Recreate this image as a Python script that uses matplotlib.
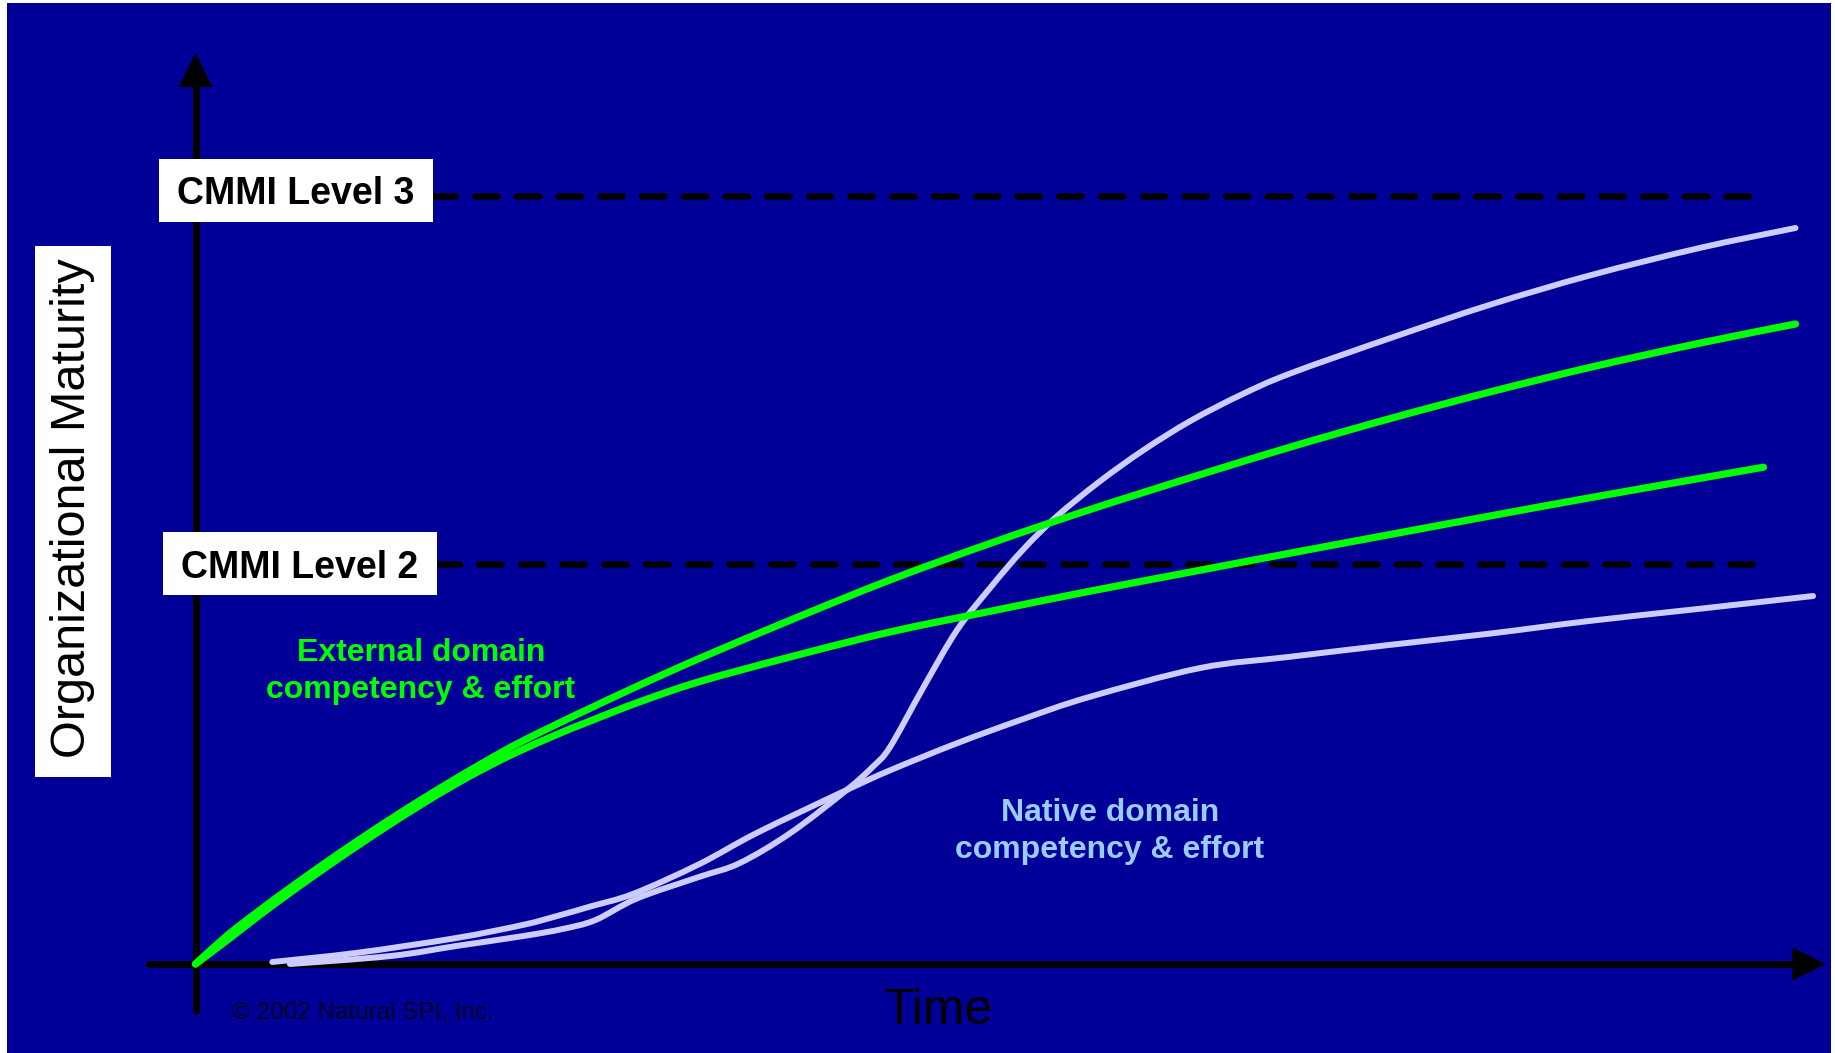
import matplotlib
matplotlib.use("Agg")
import numpy as np
import matplotlib.pyplot as plt
from matplotlib.patches import Rectangle, PathPatch
from matplotlib.path import Path
from matplotlib.transforms import Affine2D

W, H = 1835, 1053
DPI = 100

BLUE = "#000099"
GREEN = "#00ff00"
LAVENDER = "#ccccff"
NATIVE_TEXT = "#99ccff"
FONT = "Liberation Sans"

# maturity thresholds (y units)
level_names = ["CMMI Level 2", "CMMI Level 3"]
level_values = [50.0, 96.0]

# external domain competency & effort: two trajectories (time, maturity)
ext_fast_t = [0, 2, 4, 6, 8, 10, 12, 14, 16, 18, 20, 22.6, 24.7,
              27.8, 31.5, 37.2, 43.4, 49.7, 55.9, 62.2, 68.4, 74.7, 80.9, 87.2, 94.0, 100.0]
ext_fast_m = [0, 3.6, 6.7, 9.64, 12.48, 15.22, 17.86, 20.4, 22.84, 25.18, 27.42, 30.0, 32.0,
              34.9, 38.2, 43.0, 48.0, 52.6, 56.8, 60.8, 64.6, 68.2, 71.5, 74.6, 77.6, 80.0]
ext_slow_t = [0, 2, 4, 6, 8, 10, 12, 14, 16, 18, 20, 22.6, 24.7,
              27.8, 31.5, 37.2, 43.4, 49.7, 55.9, 62.2, 68.4, 74.7, 80.9, 87.2, 94.0, 98.0]
ext_slow_m = [0, 3.0, 6.1, 9.04, 11.88, 14.62, 17.26, 19.8, 22.2, 24.4, 26.4, 28.7, 30.4,
              32.8, 35.3, 38.4, 41.5, 44.1, 46.6, 49.0, 51.35, 53.7, 56.0, 58.3, 60.7, 62.1]

# native domain competency & effort: two trajectories (time, maturity)
nat_slow_t = [4.8, 10.1, 16.3, 20.5, 22.6, 24.7, 27.4, 31.5, 35.1, 40.7, 43.4, 47.6,
              51.7, 55.9, 62.8, 68.4, 74.7, 80.9, 87.2, 94.0, 101.1]
nat_slow_m = [0.25, 1.4, 3.25, 4.9, 6.0, 7.2, 8.8, 12.5, 16.4, 21.75, 24.2, 27.6,
              30.6, 33.4, 37.0, 38.4, 39.9, 41.3, 42.9, 44.4, 46.0]
nat_fast_t = [5.9, 12.2, 16.3, 20.5, 23.0, 25.0, 27.6, 31.5, 34.0, 37.2, 40.7, 42.3, 43.4,
              45.5, 47.6, 49.7, 51.7, 53.8, 56.5, 59.3, 62.2, 65.3, 68.4, 74.7, 80.9, 87.2,
              94.0, 100.0]
nat_fast_m = [0, 1.0, 2.25, 3.5, 4.4, 5.5, 8.2, 10.9, 12.6, 16.4, 21.75, 24.6, 27.1,
              34.6, 41.75, 47.1, 51.75, 55.9, 60.3, 64.3, 67.9, 71.1, 73.8, 78.25, 82.4, 86.1,
              89.5, 92.0]


def smooth_path(xs, ys):
    """Catmull-Rom style cubic Bezier path through the given points."""
    p = np.column_stack([xs, ys]).astype(float)
    ext = np.vstack([p[0], p, p[-1]])
    verts = [p[0]]
    codes = [Path.MOVETO]
    for i in range(1, len(ext) - 2):
        a, b, c, d = ext[i - 1], ext[i], ext[i + 1], ext[i + 2]
        verts += [b + (c - a) / 6, c - (d - b) / 6, c]
        codes += [Path.CURVE4] * 3
    return Path(verts, codes)


def draw_curve(ax, xs, ys, color, lw):
    ax.add_patch(PathPatch(smooth_path(xs, ys), facecolor="none", edgecolor=color,
                           lw=lw, capstyle="round", joinstyle="round", zorder=3))


fig = plt.figure(figsize=(W / DPI, H / DPI), dpi=DPI, facecolor="white")
ax = fig.add_axes([0, 0, 1, 1])
ax.set_axis_off()
ax.patch.set_alpha(0)
# chart origin sits at pixel (195.5, 964); 16 px per time unit, 8 px per maturity unit
ax.set_xlim(-195.5 / 16, (W - 195.5) / 16)
ax.set_ylim((964 - H) / 8, 964 / 8)

# top-left pixel coordinates for the slide furniture
pix = Affine2D().scale(1, -1).translate(0, H)

ax.add_patch(Rectangle((7, 3), 1824, 1050, transform=pix, facecolor=BLUE,
                       edgecolor="none", zorder=0))

# axes with arrow heads
ax.plot([0, 0], [-5.9, 110.0], color="black", lw=5.0, solid_capstyle="round", zorder=2)
ax.fill([-1.06, 1.06, 0], [109.6, 109.6, 113.9], color="black", lw=0, zorder=2)
ax.plot([-2.9, 100.0], [0, 0], color="black", lw=5.0, solid_capstyle="round", zorder=2)
ax.fill([99.8, 99.8, 101.9], [-2.06, 2.06, 0], color="black", lw=0, zorder=2)

# CMMI level thresholds with their label boxes
box_left = [163, 159]
box_top = [532, 159]
for name, lv, bx, by in zip(level_names, level_values, box_left, box_top):
    ax.plot([(bx + 274 - 195.5) / 16, 98.1], [lv, lv], color="black", lw=4.7,
            dashes=(3.45, 2.94), dash_capstyle="round", zorder=2)
    ax.add_patch(Rectangle((bx, by), 274, 63, transform=pix, facecolor="white",
                           edgecolor="none", zorder=4))
    ax.text(bx + 137, by + 45.5, name, transform=pix, ha="center", va="baseline",
            fontsize=27, fontweight="bold", family=FONT, color="black", zorder=5)

# y label in a white box
ax.add_patch(Rectangle((35, 246), 76, 531, transform=pix, facecolor="white",
                       edgecolor="none", zorder=4))
ax.text(73, 508, "Organizational Maturity", transform=pix, rotation=90, ha="center",
        va="center", fontsize=35, family=FONT, color="black", zorder=5)

# trajectories
draw_curve(ax, nat_slow_t, nat_slow_m, LAVENDER, 4.3)
draw_curve(ax, nat_fast_t, nat_fast_m, LAVENDER, 4.3)
draw_curve(ax, ext_slow_t, ext_slow_m, GREEN, 5.2)
draw_curve(ax, ext_fast_t, ext_fast_m, GREEN, 5.2)

# series labels
for s, y in zip(["External domain", "competency & effort"], [661, 698]):
    ax.text(421, y, s, transform=pix, ha="center", va="baseline", fontsize=23,
            fontweight="bold", family=FONT, color=GREEN, zorder=5)
for s, y in zip(["Native domain", "competency & effort"], [821, 858]):
    ax.text(1110, y, s, transform=pix, ha="center", va="baseline", fontsize=23,
            fontweight="bold", family=FONT, color=NATIVE_TEXT, zorder=5)

ax.text(938, 1024, "Time", transform=pix, ha="center", va="baseline", fontsize=36,
        family=FONT, color="black", zorder=5)
ax.text(232, 1019, "\u00a9 2002 Natural SPI, Inc.", transform=pix, ha="left", va="baseline",
        fontsize=17.5, family=FONT, color="#000022", zorder=5)

fig.savefig("out.png", dpi=DPI, facecolor="white")
